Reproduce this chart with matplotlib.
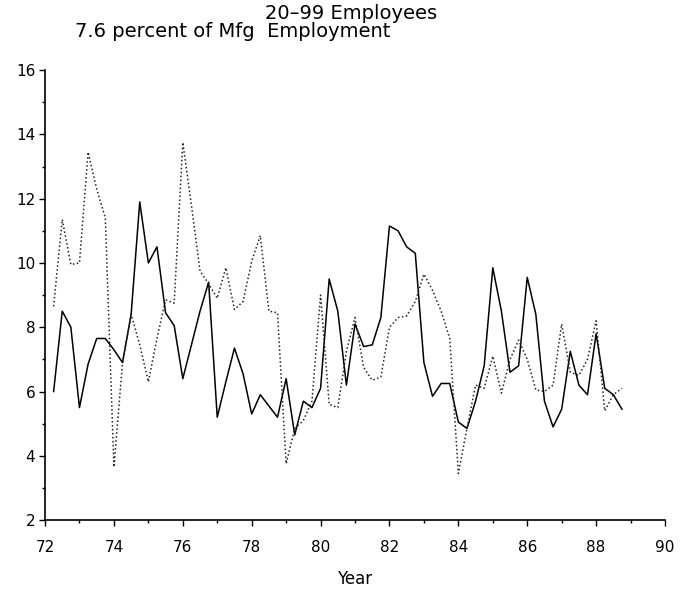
import numpy as np
import matplotlib
matplotlib.use('Agg')
import matplotlib.pyplot as plt
from matplotlib.ticker import MultipleLocator

# quarterly observations, 1972 Q2 .. 1988 Q4
years = np.arange(72.25, 88.76, 0.25)

# solid series
series_solid = [6.0, 8.5, 8.0, 5.5, 6.85, 7.65, 7.65, 7.3, 6.9, 8.4,
                11.9, 10.0, 10.5, 8.45, 8.05, 6.4, 7.45, 8.5, 9.4, 5.2,
                6.3, 7.35, 6.55, 5.3, 5.9, 5.55, 5.2, 6.4, 4.65, 5.7,
                5.5, 6.1, 9.5, 8.5, 6.2, 8.1, 7.4, 7.45, 8.3, 11.15,
                11.0, 10.5, 10.3, 6.9, 5.85, 6.25, 6.25, 5.05, 4.85, 5.7,
                6.8, 9.85, 8.5, 6.6, 6.8, 9.55, 8.4, 5.7, 4.9, 5.45,
                7.25, 6.2, 5.9, 7.8, 6.1, 5.9, 5.45]

# dotted series
series_dotted = [8.65, 11.35, 9.95, 10.0, 13.45, 12.3, 11.4, 3.65, 6.9, 8.4,
                 7.45, 6.3, 7.65, 8.85, 8.75, 13.75, 11.8, 9.75, 9.35, 8.9,
                 9.85, 8.55, 8.8, 10.05, 10.85, 8.5, 8.45, 3.75, 4.85, 5.1,
                 5.7, 9.0, 5.6, 5.5, 7.25, 8.3, 6.75, 6.35, 6.45, 8.0,
                 8.3, 8.35, 8.8, 9.65, 9.15, 8.5, 7.65, 3.45, 4.85, 6.2,
                 6.1, 7.1, 5.95, 7.0, 7.6, 7.0, 6.05, 6.0, 6.2, 8.1,
                 6.6, 6.5, 7.0, 8.2, 5.4, 5.9, 6.1]

title = '20\u201399 Employees'
subtitle = '7.6 percent of Mfg  Employment'

fig = plt.figure(figsize=(6.97, 5.91), dpi=100)
ax = fig.add_axes([0.0646, 0.120, 0.8895, 0.7614])

ax.plot(years, series_solid, color='black', lw=1.1)
ax.plot(years, series_dotted, color='#222222', lw=1.1, linestyle=(0, (1, 1.6)))

ax.set_xlim(72, 90)
ax.set_ylim(2, 16)
ax.xaxis.set_major_locator(MultipleLocator(2))
ax.xaxis.set_minor_locator(MultipleLocator(1))
ax.yaxis.set_major_locator(MultipleLocator(2))
ax.yaxis.set_minor_locator(MultipleLocator(1))
ax.tick_params(which='major', direction='out', length=4, width=1, labelsize=11)
ax.tick_params(which='minor', direction='out', length=2.5, width=1)
ax.tick_params(axis='x', pad=10)
ax.tick_params(axis='y', pad=3)

for side in ['top', 'right']:
    ax.spines[side].set_visible(False)
for side in ['left', 'bottom']:
    ax.spines[side].set_linewidth(1.2)

ax.set_xlabel('Year', fontsize=12, labelpad=11)

fig.text(0.504, 0.993, title, ha='center', va='top', fontsize=14)
fig.text(0.108, 0.962, subtitle, ha='left', va='top', fontsize=14)

fig.savefig('out.png', dpi=100)
